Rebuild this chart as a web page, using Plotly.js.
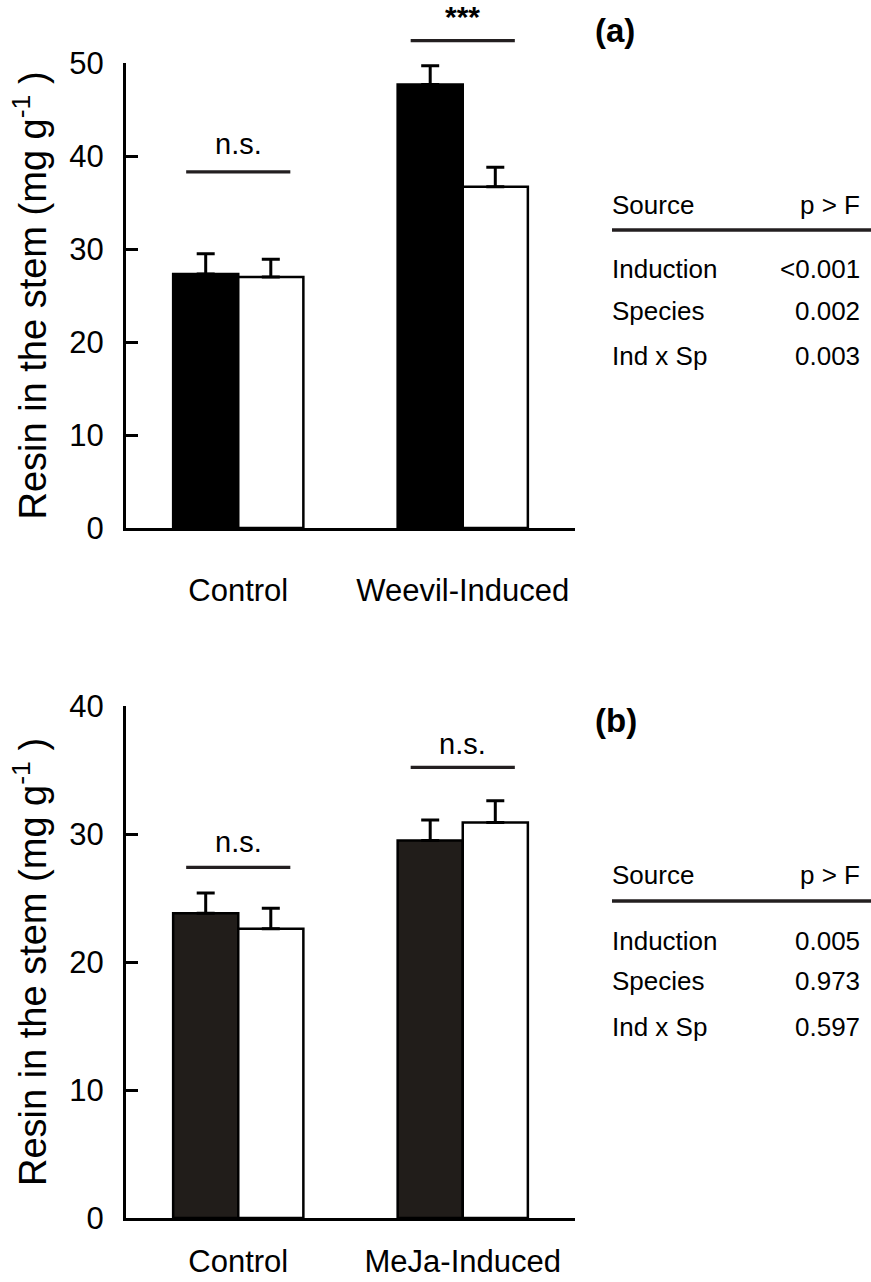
<!DOCTYPE html>
<html><head><meta charset="utf-8">
<script src="https://cdn.plot.ly/plotly-3.0.1.min.js"></script>
<style>html,body{margin:0;padding:0;background:#fff;} #chart{width:871px;height:1282px;}</style>
</head><body><div id="chart"></div>
<script>
// ---- Panel (a) data ----
const catsA = ['Control', 'Weevil-Induced'];
const blackA = [27.3, 47.7];
const blackErrA = [2.2, 2.0];
const whiteA = [27.0, 36.7];
const whiteErrA = [1.9, 2.1];
const sigA = ['n.s.', '***'];
const sigLineA = [38.3, 52.4];
const sigTextA = [41.3, 55.0];
const yMaxA = 50;

// ---- Panel (b) data ----
const catsB = ['Control', 'MeJa-Induced'];
const blackB = [23.8, 29.5];
const blackErrB = [1.6, 1.6];
const whiteB = [22.6, 30.9];
const whiteErrB = [1.6, 1.7];
const sigB = ['n.s.', 'n.s.'];
const sigLineB = [27.4, 35.2];
const sigTextB = [29.4, 37.0];
const yMaxB = 40;

// ---- ANOVA tables ----
const tableHeader = ['Source', 'p > F'];
const tableSources = ['Induction', 'Species', 'Ind x Sp'];
const tablePA = ['<0.001', '0.002', '0.003'];
const tablePB = ['0.005', '0.973', '0.597'];
const panelLabels = ['(a)', '(b)'];
const yTitle = 'Resin in the stem (mg g<sup>-1</sup> )';

// ---- geometry ----
const W = 871, H = 1282;
const M = {l: 126, r: 296, t: 63, b: 64};
const plotH = H - M.t - M.b, plotW = W - M.l - M.r;
const domA = [(H - M.b - 528) / plotH, 1];
const domB = [0, (H - M.b - 706) / plotH];
const FONT = 'Liberation Sans, Arial, Helvetica, sans-serif';
const esc = s => s.replace(/</g, '&lt;').replace(/>/g, '&gt;');
const px2py = p => (H - M.b - p) / plotH;
const px2pxx = p => (p - M.l) / plotW;
const valToPaper = (v, ymax, dom) => dom[0] + (v / ymax) * (dom[1] - dom[0]);

function barTrace(cats, vals, errs, fill, xa, ya) {
  return {
    type: 'bar', x: cats, y: vals, xaxis: xa, yaxis: ya,
    marker: {color: fill, line: {color: '#000', width: 2.5}},
    error_y: {type: 'data', symmetric: false, array: errs, arrayminus: errs.map(() => 0),
              color: '#000', thickness: 3, width: 9},
    showlegend: false, hoverinfo: 'skip'
  };
}

const data = [
  barTrace(catsA, blackA, blackErrA, '#000000', 'x', 'y'),
  barTrace(catsA, whiteA, whiteErrA, '#ffffff', 'x', 'y'),
  barTrace(catsB, blackB, blackErrB, '#211d1a', 'x2', 'y2'),
  barTrace(catsB, whiteB, whiteErrB, '#ffffff', 'x2', 'y2')
];

const shapes = [];
const annotations = [];
const half = 0.232;

function addSig(labels, lineVals, textVals, ymax, dom, xref) {
  labels.forEach((lab, i) => {
    const yp = valToPaper(lineVals[i], ymax, dom);
    shapes.push({type: 'line', xref: xref, yref: 'paper', x0: i - half, x1: i + half, y0: yp, y1: yp,
                 line: {color: '#231f20', width: 3.3}});
    const bold = lab.indexOf('*') >= 0;
    annotations.push({xref: xref, yref: 'paper', x: i, y: valToPaper(textVals[i], ymax, dom),
                      text: bold ? '<b>' + esc(lab) + '</b>' : esc(lab), showarrow: false, xanchor: 'center', yanchor: 'middle',
                      font: {family: FONT, size: bold ? 30 : 29, color: '#000'}});
  });
}
addSig(sigA, sigLineA, sigTextA, yMaxA, domA, 'x');
addSig(sigB, sigLineB, sigTextB, yMaxB, domB, 'x2');

function table(pvals, pos, letter) {
  annotations.push({xref: 'paper', yref: 'paper', x: px2pxx(593), y: px2py(pos.letter), text: '<b>' + letter + '</b>',
                    showarrow: false, xanchor: 'left', yanchor: 'middle', font: {family: FONT, size: 33, color: '#000'}});
  annotations.push({xref: 'paper', yref: 'paper', x: px2pxx(610), y: px2py(pos.head), text: esc(tableHeader[0]),
                    showarrow: false, xanchor: 'left', yanchor: 'middle', font: {family: FONT, size: 26, color: '#000'}});
  annotations.push({xref: 'paper', yref: 'paper', x: px2pxx(862), y: px2py(pos.head), text: esc(tableHeader[1]),
                    showarrow: false, xanchor: 'right', yanchor: 'middle', font: {family: FONT, size: 26, color: '#000'}});
  shapes.push({type: 'line', xref: 'paper', yref: 'paper', x0: px2pxx(612), x1: px2pxx(871), y0: px2py(pos.rule), y1: px2py(pos.rule),
               line: {color: '#231f20', width: 3.5}});
  tableSources.forEach((s, i) => {
    annotations.push({xref: 'paper', yref: 'paper', x: px2pxx(610), y: px2py(pos.rows[i]), text: esc(s),
                      showarrow: false, xanchor: 'left', yanchor: 'middle', font: {family: FONT, size: 26, color: '#000'}});
    annotations.push({xref: 'paper', yref: 'paper', x: px2pxx(862), y: px2py(pos.rows[i]), text: esc(pvals[i]),
                      showarrow: false, xanchor: 'right', yanchor: 'middle', font: {family: FONT, size: 26, color: '#000'}});
  });
}
table(tablePA, {letter: 30, head: 205, rule: 230, rows: [269, 311, 356]}, panelLabels[0]);
table(tablePB, {letter: 720, head: 875, rule: 901, rows: [941, 981, 1027]}, panelLabels[1]);

function yaxis(ymax, dom, anchor) {
  return {
    domain: dom, anchor: anchor, range: [0, ymax], dtick: 10, tick0: 0,
    ticks: 'inside', ticklen: 12, tickwidth: 3, tickcolor: '#000',
    showline: true, linewidth: 3, linecolor: '#000', showgrid: false, zeroline: false,
    tickfont: {family: FONT, size: 31, color: '#000'}, ticklabelstandoff: 13,
    title: {text: yTitle, font: {family: FONT, size: 38, color: '#000'}, standoff: 12},
    fixedrange: true
  };
}
function xaxis(anchor, standoff) {
  return {
    anchor: anchor, domain: [0, 1], type: 'category', range: [-0.5, 1.5],
    showline: true, linewidth: 3, linecolor: '#000', ticks: '', showgrid: false, zeroline: false,
    tickfont: {family: FONT, size: 31, color: '#000'}, ticklabelstandoff: standoff,
    fixedrange: true
  };
}

const layout = {
  width: W, height: H, margin: M,
  paper_bgcolor: '#fff', plot_bgcolor: 'rgba(0,0,0,0)',
  barmode: 'group', bargap: 0.42, bargroupgap: 0,
  showlegend: false,
  xaxis: xaxis('y', 33),
  yaxis: yaxis(yMaxA, domA, 'x'),
  xaxis2: xaxis('y2', 14),
  yaxis2: yaxis(yMaxB, domB, 'x2'),
  shapes: shapes, annotations: annotations,
  font: {family: FONT, color: '#000'}
};

Plotly.newPlot('chart', data, layout, {displayModeBar: false, staticPlot: true});
</script>
</body></html>
